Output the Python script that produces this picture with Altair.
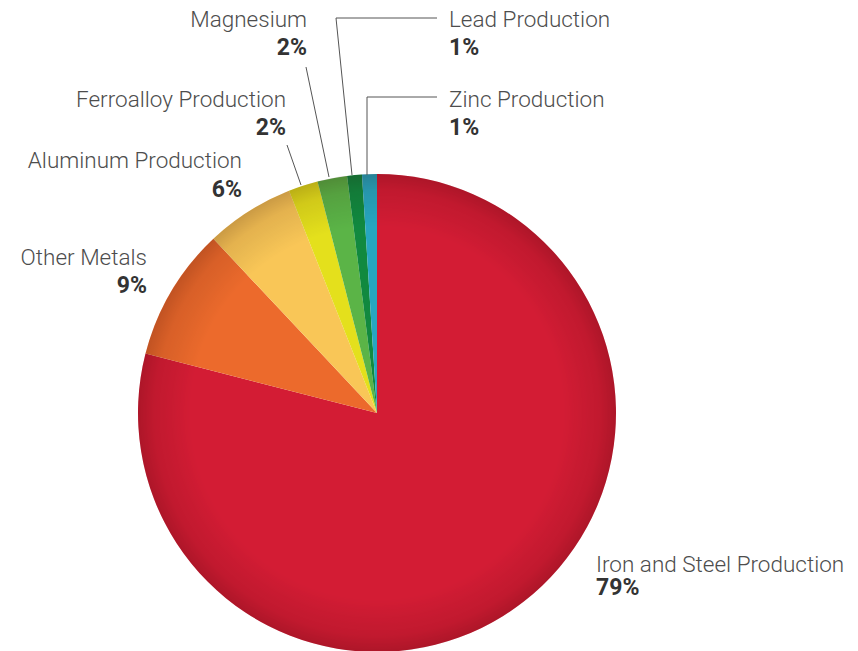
import altair as alt
import pandas as pd

# ---- data ----
categories = ["Iron and Steel Production", "Other Metals", "Aluminum Production",
              "Ferroalloy Production", "Magnesium", "Lead Production", "Zinc Production"]
shares = [79, 9, 6, 2, 2, 1, 1]
pct_labels = ["79%", "9%", "6%", "2%", "2%", "1%", "1%"]
colors = ["#d31c34", "#ec6a2c", "#f9c657", "#e4e01c", "#5bb447", "#11893f", "#27a6c0"]

# ---- layout (pixel positions of annotations) ----
CX, CY, R = 369, 405, 239
label_x = [588, 139, 234, 278, 299, 441, 441]
label_align = ["left", "right", "right", "right", "right", "left", "left"]
name_y = [564, 257, 160, 99, 19, 19, 99]
pct_y = [587, 285, 189, 127, 47, 47, 127]

# leader lines: x, y, x2, y2
leaders = [
    (298, 59, 321, 169),   # Magnesium
    (328, 10, 344, 167),   # Lead (diagonal)
    (328, 10, 429, 10),    # Lead (horizontal)
    (279, 137, 293, 177),  # Ferroalloy
    (359, 89, 359, 167),   # Zinc (vertical)
    (359, 89, 429, 89),    # Zinc (horizontal)
]

df = pd.DataFrame({
    "category": categories,
    "share": shares,
    "order": list(range(len(categories))),
    "pct": pct_labels,
    "lx": label_x,
    "align": label_align,
    "ny": name_y,
    "py": pct_y,
})
lines = pd.DataFrame(leaders, columns=["x", "y", "x2", "y2"])

W, H = 842, 643
xs = alt.Scale(domain=[0, W], range=[0, W])
ys = alt.Scale(domain=[0, H], range=[0, H])

pie = alt.Chart(df).mark_arc(outerRadius=R, stroke=None).encode(
    theta=alt.Theta("share:Q", stack=True),
    order=alt.Order("order:Q"),
    color=alt.Color("category:N", scale=alt.Scale(domain=categories, range=colors), legend=None),
    x=alt.value(CX),
    y=alt.value(CY),
)

shade = alt.Chart(pd.DataFrame({"k": [0]})).mark_arc(
    outerRadius=R, theta=0, theta2=6.2832,
    fill=alt.RadialGradient(
        gradient="radial",
        stops=[
            alt.GradientStop(color="rgba(0,0,0,0)", offset=0),
            alt.GradientStop(color="rgba(0,0,0,0)", offset=0.78),
            alt.GradientStop(color="rgba(40,0,0,0.10)", offset=0.93),
            alt.GradientStop(color="rgba(40,0,0,0.22)", offset=1),
        ],
        x1=0.5, y1=0.5, x2=0.5, y2=0.5, r1=0, r2=0.5,
    ),
).encode(x=alt.value(CX), y=alt.value(CY))

rules = alt.Chart(lines).mark_rule(color="#555555", strokeWidth=1).encode(
    x=alt.X("x:Q", scale=xs, axis=None),
    y=alt.Y("y:Q", scale=ys, axis=None),
    x2="x2:Q",
    y2="y2:Q",
)

FONT = "Roboto"

def text_layers(align):
    base = alt.Chart(df).transform_filter(alt.datum.align == align)
    names = base.mark_text(align=align, baseline="alphabetic", font=FONT, fontWeight=300,
                           fontSize=22.5, color="#4d4d4d").encode(
        x=alt.X("lx:Q", scale=xs, axis=None),
        y=alt.Y("ny:Q", scale=ys, axis=None),
        text="category:N",
    )
    pcts = base.mark_text(align=align, baseline="alphabetic", font=FONT, fontWeight="bold",
                          fontSize=23, color="#333333").encode(
        x=alt.X("lx:Q", scale=xs, axis=None),
        y=alt.Y("py:Q", scale=ys, axis=None),
        text="pct:N",
    )
    return names + pcts

chart = alt.layer(pie, shade, rules, text_layers("left"), text_layers("right")).properties(
    width=W, height=H, autosize=alt.AutoSizeParams(type="none"), padding=0
).configure_view(stroke=None).resolve_scale(color="independent")

chart.save("out.html", embed_options={"renderer": "svg", "actions": False})
